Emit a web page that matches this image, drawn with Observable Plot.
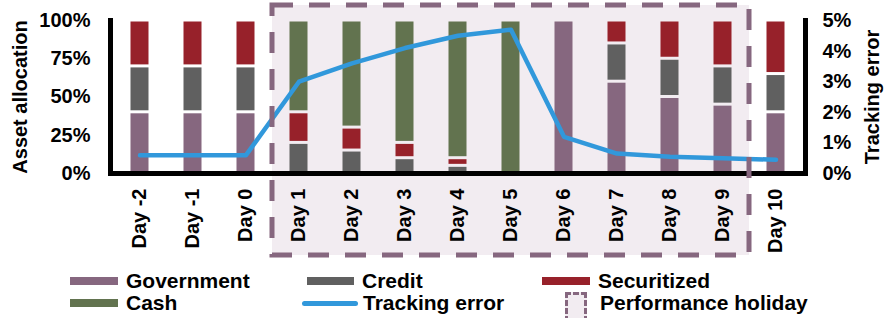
<!DOCTYPE html>
<html><head><meta charset="utf-8">
<script src="https://cdn.jsdelivr.net/npm/d3@7"></script>
<script src="https://cdn.jsdelivr.net/npm/@observablehq/plot@0.6"></script>
<style>
body{margin:0;background:#fff;font-family:"Liberation Sans",Arial,sans-serif;font-weight:bold;color:#000}
#wrap{position:relative;width:896px;height:318px;overflow:hidden}
#chart{position:absolute;left:0;top:0}
#legend{position:absolute;left:0;top:260px;width:896px;height:58px;overflow:hidden}
.item{position:absolute;display:flex;align-items:center;height:22px;font-size:21px;line-height:22px;white-space:nowrap}
.sw{display:inline-block;height:8px;margin-right:8px}
</style></head><body><div id="wrap"><div id="chart"></div><div id="legend"></div></div>
<script>
const days = ["Day -2","Day -1","Day 0","Day 1","Day 2","Day 3","Day 4","Day 5","Day 6","Day 7","Day 8","Day 9","Day 10"];
const government  = [40,40,40,0,0,0,0,0,100,60,50,45,40];
const credit      = [30,30,30,20,15,10,5,0,0,25,25,25,25];
const securitized = [30,30,30,20,15,10,5,0,0,15,25,30,35];
const cash        = [0,0,0,60,70,80,90,100,0,0,0,0,0];
const trackingError = [0.6,0.6,0.6,3.0,3.6,4.1,4.5,4.7,1.2,0.65,0.55,0.5,0.45];
const allocTicks = [0,25,50,75,100];
const teTicks = [0,1,2,3,4,5];
const holiday = ["Day 1","Day 9"];
const seriesNames = ["Government","Credit","Securitized","Cash"];
const seriesColors = ["#86677f","#606060","#97212a","#62734f"];
const teColor = "#3198db";
const holidayFill = "#f2ecf1";
const holidayStroke = "#86677f";

const seriesValues = [government, credit, securitized, cash];
const alloc = [];
seriesNames.forEach((s, i) => days.forEach((d, j) => {
  if (seriesValues[i][j] > 0) alloc.push({day: d, series: s, value: seriesValues[i][j]});
}));
const teData = days.map((d, j) => ({day: d, te: trackingError[j]}));
const factor = d3.max(allocTicks) / d3.max(teTicks);

const W = 896, H = 260;
const plot = Plot.plot({
  width: W, height: H,
  marginLeft: 110, marginRight: 91, marginTop: 20, marginBottom: 87,
  style: {fontFamily: "'Liberation Sans', Arial, sans-serif", fontSize: "20px", fontWeight: "bold", color: "#000", background: "transparent"},
  x: {domain: days, padding: 0},
  y: {domain: [0, 100]},
  color: {domain: seriesNames, range: seriesColors},
  marks: [
    Plot.barY(alloc, Plot.stackY({x: "day", y: "value", fill: "series", insetLeft: 17.5, insetRight: 17.5, insetTop: 1.5, insetBottom: 1.5})),
    Plot.line(teData, {x: "day", y: d => d.te * factor, stroke: teColor, strokeWidth: 4.5, strokeLinecap: "round"}),
    Plot.ruleY([0], {stroke: "#000", strokeWidth: 5}),
    Plot.frame({anchor: "left", stroke: "#000", strokeWidth: 5}),
    Plot.frame({anchor: "right", stroke: "#000", strokeWidth: 5}),
    Plot.axisX({tickRotate: -90, tickSize: 0, tickPadding: 15, label: null}),
    Plot.axisY(allocTicks, {anchor: "left", tickSize: 0, tickPadding: 20, tickFormat: d => d + "%", label: "Asset allocation", labelAnchor: "center", labelOffset: 98, labelArrow: false, fontSize: 20}),
    Plot.axisY(teTicks.map(t => t * factor), {anchor: "right", tickSize: 0, tickPadding: 17, tickFormat: d => (d / factor) + "%", label: "Tracking error", labelAnchor: "center", labelOffset: 73, labelArrow: false, fontSize: 20})
  ]
});
document.getElementById("chart").appendChild(plot);

// performance-holiday box from the x band scale
const xs = plot.scale("x");
const hx0 = xs.apply(holiday[0]);
const hx1 = xs.apply(holiday[1]) + xs.bandwidth;
const svg = d3.select(plot);
svg.insert("rect", ":first-child")
  .attr("x", hx0).attr("y", 5).attr("width", hx1 - hx0).attr("height", H - 10)
  .attr("fill", holidayFill);
svg.append("rect")
  .attr("x", hx0).attr("y", 5).attr("width", hx1 - hx0).attr("height", H - 10)
  .attr("fill", "none").attr("stroke", holidayStroke).attr("stroke-width", 5)
  .attr("stroke-dasharray", "21 16");

// legend
const legend = d3.select("#legend");
const items = [
  {label: "Government", left: 70, top: 10, sw: {w: 48, h: 8, c: seriesColors[0]}},
  {label: "Credit", left: 307, top: 10, sw: {w: 47, h: 8, c: seriesColors[1]}},
  {label: "Securitized", left: 542, top: 10, sw: {w: 48, h: 8, c: seriesColors[2]}},
  {label: "Cash", left: 70, top: 32, sw: {w: 48, h: 8, c: seriesColors[3]}},
  {label: "Tracking error", left: 302, top: 32, sw: {w: 56, h: 5, c: teColor, line: true}},
  {label: "Performance holiday", left: 565, top: 32, box: true}
];
items.forEach(it => {
  const div = legend.append("div").attr("class", "item").style("left", it.left + "px").style("top", it.top + "px");
  if (it.box) {
    div.append("span").style("display", "inline-block").style("width", "22px").style("height", "30px")
      .style("box-sizing", "border-box").style("border", "3px dashed " + holidayStroke)
      .style("background", holidayFill).style("margin-right", "13px").style("position", "relative").style("top", "4px");
  } else {
    div.append("span").attr("class", "sw").style("width", it.sw.w + "px").style("height", it.sw.h + "px")
      .style("background", it.sw.c).style("border-radius", it.sw.line ? "3px" : "0")
      .style("margin-right", it.sw.line ? "5px" : "8px");
  }
  div.append("span").text(it.label);
});
</script>
</body></html>
